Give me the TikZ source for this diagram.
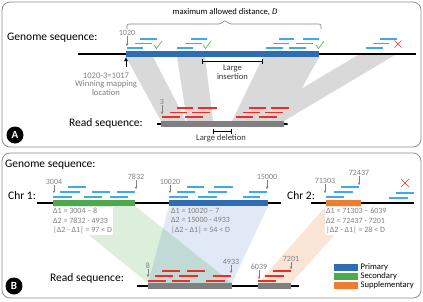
\documentclass[tikz,border=0pt]{standalone}
\usepackage{fontspec}
\setmainfont{Carlito}
\usetikzlibrary{arrows.meta,positioning,backgrounds}
\definecolor{prim}{HTML}{2E6DB4}
\definecolor{secd}{HTML}{4EA84E}
\definecolor{supp}{HTML}{ED7D31}
\definecolor{rdgray}{HTML}{808080}
\definecolor{lblue}{HTML}{3FAAE6}
\definecolor{rred}{HTML}{E8302A}
\definecolor{txtgray}{HTML}{7F7F7F}
\definecolor{bandgray}{HTML}{D9D9D9}
\definecolor{okgreen}{HTML}{4CB04C}

\begin{document}
\begin{tikzpicture}[x=1pt,y=-1pt,
  panel/.style={draw=black!45,line width=0.8pt,rounded corners=8pt},
  big/.style={font=\fontsize{11.5}{13}\selectfont,inner sep=0pt},
  small/.style={font=\fontsize{8.6}{8.6}\selectfont,text=txtgray,inner sep=0pt,align=center},
  num/.style={font=\fontsize{8}{9}\selectfont,text=txtgray,inner sep=0pt},
  delta/.style={font=\fontsize{8}{9.6}\selectfont,text=txtgray,align=left,inner sep=1pt,anchor=north west},
  tick/.style={txtgray,line width=0.4pt,-{Stealth[length=2.5pt,width=2.5pt]}},
  gline/.style={line width=1.2pt},
  bar/.style={minimum height=6pt,inner sep=0pt,outer sep=0pt,anchor=west},
  bread/.style={lblue,line width=1.8pt},
  rread/.style={rred,line width=1.8pt},
  ok/.style={okgreen,line width=0.6pt},
  bad/.style={rred,line width=0.6pt},
  bracket/.style={line width=0.6pt,{Bar[width=5pt]}-{Bar[width=5pt]}},
  tag/.style={circle,fill=black,text=white,minimum size=17pt,inner sep=0pt,font=\bfseries\fontsize{11}{11}\selectfont},
  lg/.style={minimum width=24pt,minimum height=7pt,inner sep=0pt,anchor=west},
  legt/.style={font=\fontsize{8.6}{9}\selectfont,inner sep=0pt}
]
\useasboundingbox (0,0) rectangle (423,301);

% ---------------- panel A ----------------
\draw[panel] (2,2) rectangle (421,147);
\node[big,anchor=west] (gsA) at (7,38) {Genome sequence:};
\draw[gline] (78,54) -- (416,54);
\node[bar,fill=prim,minimum width=193pt] (primA) at (126,54) {};

\node[big,anchor=east] (rsA) at (143,123) {Read sequence:};
\draw[gline] (157,124) -- (287,124);
\fill (287,124) circle (1pt);
\node[bar,fill=rdgray,minimum width=123pt] (readA) at (161,124) {};

\begin{pgfonlayer}{background}
\fill[bandgray] (primA.south west) -- (153,57) -- (186,121) -- (readA.north west) -- cycle;
\fill[bandgray] (177,57) -- (205,57) -- (213,121) -- (187,121) -- cycle;
\fill[bandgray] (263,57) -- (primA.south east) -- (readA.north east) -- (232,121) -- cycle;
\fill[bandgray] (358,55) -- (395,55) -- (readA.north east) -- (247,121) -- cycle;
\end{pgfonlayer}

% reads on the genome
\foreach \a/\b/\y in {140/157/39,135/152/43.5,127/143/48,
  191/207/39,185/202/43.5,177/193/48,
  279/294/39,303/319/39,273/289/43.5,296/313/43.5,266/283/48,289/306/48,
  380/397/39,373/389/43.5,366/383/48}
  \draw[bread] (\a,\y) -- (\b,\y);
\foreach \x in {158,207,320}
  \draw[ok] (\x-4,45) -- (\x-1.5,48.5) -- (\x+4,41);
\draw[bad] (394.5,40.5) -- (401.5,47.5) (394.5,47.5) -- (401.5,40.5);

% reads on the read
\foreach \a/\b/\y in {177/193/108,198/217/108,170/187/112.5,192/210/112.5,162/180/117,185/203/117,
  249/266/108,271/289/108,243/260/112.5,265/283/112.5,236/253/117,259/277/117}
  \draw[rread] (\a,\y) -- (\b,\y);

\node[num] (n1020) at (127,33) {1020};
\coordinate (p1020) at (127,46);
\draw[tick] (n1020) -- (p1020);

\draw[txtgray,line width=0.6pt,rounded corners=2pt] (127,29) -- (127,24) -- (221,24) -- (225,20) -- (229,24) -- (321,24) -- (321,29);
\node[small,text=black] (dist) at (225,12) {maximum allowed distance, \textit{D}};

\node[small] (win) at (106,84) {1020-3=1017\\Winning mapping\\location};
\coordinate (winbase) at (126,67);
\draw[line width=1pt,-{Latex[length=4pt,width=4pt]}] (winbase) -- (primA.south west);

\coordinate (ins0) at (202,61);
\coordinate (ins1) at (263,61);
\draw[bracket] (ins0) -- (ins1);
\node[small,text=black!80] (insl) at (232.5,72) {Large\\insertion};

\coordinate (del0) at (213,131);
\coordinate (del1) at (232,131);
\draw[bracket] (del0) -- (del1);
\node[small,text=black!80] (dell) at (221,138.5) {Large deletion};

\node[num] (n3) at (162,102) {3};
\coordinate (p3) at (162,114);
\draw[tick] (n3) -- (p3);

\node[tag] (tagA) at (15,135) {A};

% ---------------- panel B ----------------
\draw[panel] (2,153) rectangle (421,298);
\node[big,anchor=west] (gsB) at (5,165) {Genome sequence:};
\node[big,anchor=west] (chr1) at (8,196) {Chr 1:};
\draw[gline] (37,203) -- (281,203);
\node[bar,fill=secd,minimum width=82pt] (secB) at (53,203) {};
\node[bar,fill=prim,minimum width=99pt] (primB) at (169,203) {};
\node[big,anchor=west] (chr2) at (287,196) {Chr 2:};
\draw[gline] (311,203) -- (414,203);
\node[bar,fill=supp,minimum width=35pt] (supB) at (326,203) {};

\node[big,anchor=west] (rsB) at (50,278) {Read sequence:};
\draw[gline] (137,286) -- (299,286);
\node[bar,fill=rdgray,minimum width=84pt] (rd1) at (148,286) {};
\node[bar,fill=rdgray,minimum width=33pt] (rd2) at (258,286) {};

\begin{pgfonlayer}{background}
\fill[secd,opacity=0.2] (secB.south west) -- (secB.south east) -- (rd1.north east) -- (rd1.north west) -- cycle;
\fill[prim,opacity=0.15] (primB.south west) -- (primB.south east) -- (rd1.north east) -- (rd1.north west) -- cycle;
\fill[supp,opacity=0.2] (supB.south west) -- (supB.south east) -- (rd2.north east) -- (rd2.north west) -- cycle;
\end{pgfonlayer}

\node[delta,fill=white] (dsec) at (52,207) {Δ1 = 3004 – 8\\Δ2 = 7832 - 4933\\|Δ2 - Δ1| = 97 < D};
\node[delta] (dprim) at (170,207) {Δ1 = 10020 – 7\\Δ2 = 15000 - 4933\\|Δ2 - Δ1| = 54 < D};
\node[delta,fill=white] (dsup) at (325,207) {Δ1 = 71303 – 6039\\Δ2 = 72437 - 7201\\|Δ2 - Δ1| = 28 < D};

\foreach \a/\b/\y in {68/86/187,60/80/192,92/110/192,117/135/192,53/72/197,84/102/197,110/128/197,
  187/204/187,214/233/187,177/195/192,208/227/192,249/267/192,169/188/197,198/217/197,243/260/197,
  341/359/187,334/353/192,326/344/197,396/414/193,389/408/198}
  \draw[bread] (\a,\y) -- (\b,\y);
\draw[bad] (401,179) -- (409,187) (401,187) -- (409,179);

\foreach \a/\b/\y in {162/180/271,187/205/271,155/173/276,179/198/276,213/231/276,148/166/281,172/190/281,206/225/281,
  273/291/271,265/284/276,258/276/281}
  \draw[rread] (\a,\y) -- (\b,\y);

\foreach \nm/\x/\y/\t in {3004/54/182/193,7832/136/177/189,10020/170/182/193,15000/267/177/189,
  71303/325/181/193,72437/359/173/185,8/148/266/277,4933/231/262/273,6039/259/267/279,7201/291/259/269}
{
  \node[num] (n\nm) at (\x,\y) {\nm};
  \coordinate (p\nm) at (\x,\t);
  \draw[tick] (n\nm) -- (p\nm);
}

\node[tag] (tagB) at (14,286) {B};

% legend
\node[lg,fill=prim] (lgp) at (334,267) {};
\node[lg,fill=secd] (lgs) at (334,276) {};
\node[lg,fill=supp] (lgu) at (334,285) {};
\node[legt,right=2pt of lgp] (lgpt) {Primary};
\node[legt,right=2pt of lgs] (lgst) {Secondary};
\node[legt,right=2pt of lgu] (lgut) {Supplementary};
\end{tikzpicture}
\end{document}
